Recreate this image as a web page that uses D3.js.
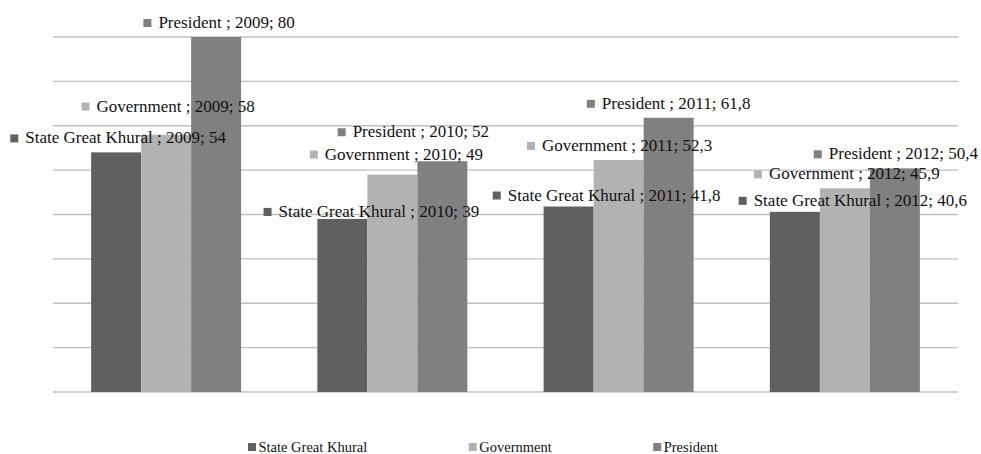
<!DOCTYPE html>
<html>
<head>
<meta charset="utf-8">
<script src="https://cdn.jsdelivr.net/npm/d3@7.9.0/dist/d3.min.js"></script>
<style>
  html, body { margin: 0; padding: 0; background: #fff; }
</style>
</head>
<body>
<div id="chart"></div>
<script>
const years = ["2009", "2010", "2011", "2012"];
const seriesNames = ["State Great Khural", "Government", "President"];
const stateGreatKhural = [54, 39, 41.8, 40.6];
const government = [58, 49, 52.3, 45.9];
const president = [80, 52, 61.8, 50.4];
const yTicks = [0, 10, 20, 30, 40, 50, 60, 70, 80];

// label nudges (px) from the default spot above each bar, by series then year
const labelShift = [
  [[2, 0], [29, 7], [38, 3], [58, 3]],
  [[2, -14], [4, -6], [1, 0], [2, 0]],
  [[3, 0], [-29, -15], [0, 0], [1, 0]],
];

const colors = ["#606060", "#b2b2b2", "#808080"];
const values = [stateGreatKhural, government, president];

const width = 981;
const height = 454;
const plot = { left: 53, right: 958, top: 37, bottom: 392 };

const svg = d3.select("#chart")
  .append("svg")
  .attr("width", width)
  .attr("height", height)
  .style("display", "block");

const x0 = d3.scaleBand()
  .domain(years)
  .range([plot.left, plot.right])
  .paddingInner(0.337)
  .paddingOuter(0.1685);

const x1 = d3.scaleBand()
  .domain(seriesNames)
  .range([0, x0.bandwidth()]);

const y = d3.scaleLinear()
  .domain([0, 80])
  .range([plot.bottom, plot.top]);

svg.append("g")
  .attr("class", "grid")
  .selectAll("line")
  .data(yTicks)
  .join("line")
  .attr("x1", plot.left)
  .attr("x2", plot.right)
  .attr("y1", (d) => y(d))
  .attr("y2", (d) => y(d))
  .attr("stroke", "#bfbfbf")
  .attr("stroke-width", 1.3);

const rows = [];
seriesNames.forEach((name, si) => {
  years.forEach((year, yi) => {
    rows.push({ name, year, si, yi, value: values[si][yi] });
  });
});

svg.append("g")
  .selectAll("rect")
  .data(rows)
  .join("rect")
  .attr("x", (d) => x0(d.year) + x1(d.name))
  .attr("y", (d) => y(d.value))
  .attr("width", x1.bandwidth())
  .attr("height", (d) => y(0) - y(d.value))
  .attr("fill", (d) => colors[d.si]);

const fmt = (v) => String(v).replace(".", ",");

const labels = svg.append("g")
  .attr("class", "labels")
  .selectAll("g")
  .data(rows)
  .join("g");

labels.append("text")
  .style("font-family", "Liberation Serif")
  .style("font-size", "17px")
  .attr("fill", "#111")
  .text((d) => `${d.name} ; ${d.year}; ${fmt(d.value)}`);

labels.each(function (d) {
  const g = d3.select(this);
  const tw = g.select("text").node().getComputedTextLength();
  const total = 8 + 7 + tw;
  const [dx, dy] = labelShift[d.si][d.yi];
  const cx = x0(d.year) + x1(d.name) + x1.bandwidth() / 2 + dx;
  const cy = y(d.value) - 14 + dy;
  const left = cx - total / 2;
  g.insert("rect", "text")
    .attr("x", left)
    .attr("y", cy - 4)
    .attr("width", 8)
    .attr("height", 8)
    .attr("fill", colors[d.si]);
  g.select("text")
    .attr("x", left + 15)
    .attr("y", cy + 5);
});

const legend = svg.append("g").attr("class", "legend");
let lx = 248;
seriesNames.forEach((name, i) => {
  legend.append("rect")
    .attr("x", lx)
    .attr("y", 443)
    .attr("width", 8)
    .attr("height", 8)
    .attr("fill", colors[i]);
  const t = legend.append("text")
    .attr("x", lx + 10.5)
    .attr("y", 452)
    .style("font-family", "Liberation Serif")
    .style("font-size", "14.5px")
    .attr("fill", "#111")
    .text(name);
  lx += 10.5 + t.node().getComputedTextLength() + 101.5;
});
</script>
</body>
</html>
